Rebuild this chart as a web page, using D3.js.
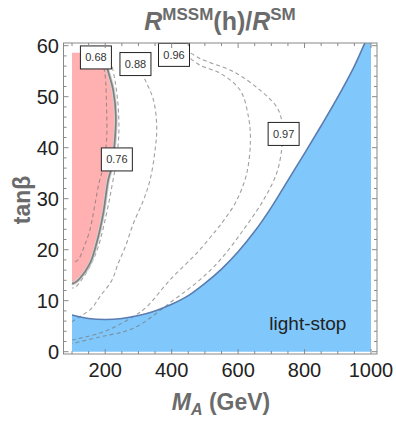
<!DOCTYPE html>
<html>
<head>
<meta charset="utf-8">
<script src="https://cdn.jsdelivr.net/npm/d3@7"></script>
<style>
body { margin: 0; background: #fff; }
svg { display: block; }
text { font-family: "Liberation Sans", Arial, sans-serif; }
</style>
</head>
<body>
<div id="chart"></div>
<script>
// values: M_A in GeV, tan(beta)
var xTicks = [200, 400, 600, 800, 1000];
var yTicks = [0, 10, 20, 30, 40, 50, 60];

// light-stop region (blue), upper edge
var stopMA = [100, 150, 200, 250, 300, 350, 400, 450, 500, 550, 600, 650, 700, 750, 800, 850, 900, 950, 980, 1000];
var stopTb = [7.2, 6.5, 6.3, 6.5, 7.1, 8.0, 9.3, 11.0, 13.4, 16.2, 19.6, 23.6, 28.3, 33.6, 38.9, 44.3, 49.9, 56.0, 60.3, 63];

// red region, right edge is the solid contour
var redTop = 58.6;
var redEdge = [[193, 58.6], [209, 54.9], [224, 51.3], [232, 46.1], [229, 41.5], [220, 36.3], [209, 33.7],
  [194, 27.1], [174, 21.3], [154, 17.3], [124, 14.4], [104, 13.4], [100, 13.4]];

// dashed contours
var c068 = [[190, 57], [199, 54.6], [204, 48], [204, 41.5], [195, 36.5], [181, 33], [168, 28.5], [154, 23.9],
  [136, 20.5], [118, 18.0], [100, 17.4]];
var c076 = [[212, 58.5], [229, 53.3], [239, 48.0], [241, 42.9], [234, 37.7], [220, 32.4], [204, 27.1],
  [179, 20.6], [154, 16.7], [129, 14.1], [109, 12.6], [100, 12.5]];
var c088 = [[300, 56], [320, 53.3], [345, 49.4], [355, 44.1], [350, 39.5], [335, 33.7], [315, 29.7], [285, 25.2],
  [260, 20.5], [239, 17.3], [220, 14.0], [184, 10.8], [159, 8.5], [124, 6.9], [100, 5.9]];
var c096 = [[440, 58.3], [485, 56.2], [546, 54.6], [606, 51.3], [631, 46.1], [637, 41.5], [626, 35.0], [596, 29.7],
  [562, 26.2], [535, 23.9], [475, 19.3], [395, 14.1], [325, 8.8], [285, 6.9], [195, 3.9], [100, 2.3]];
var c097 = [[440, 59.3], [485, 57.5], [586, 54.9], [666, 51.3], [716, 48.0], [731, 45.4], [733, 42.7], [731, 39.6],
  [716, 35.0], [676, 29.7], [616, 23.9], [546, 18.0], [485, 14.1], [405, 10.1], [285, 4.6], [184, 2.9], [100, 1.6]];
var contours = [c068, c076, c088, c096, c097];

var labelText = ["0.68", "0.88", "0.96", "0.97", "0.76"];
var labelMA = [172, 291, 407, 737, 235];
var labelTb = [57.7, 56.4, 58.2, 42.7, 37.7];

var W = 396, H = 422;
var frame = {left: 63.5, right: 377, top: 43, bottom: 354};

var x = d3.scaleLinear().domain([100, 1000]).range([72, 371]);
var y = d3.scaleLinear().domain([0, 60]).range([351.7, 45.7]);

var svg = d3.select("#chart").append("svg")
    .attr("width", W)
    .attr("height", H);

svg.append("clipPath").attr("id", "plot")
  .append("rect")
    .attr("x", frame.left).attr("y", frame.top)
    .attr("width", frame.right - frame.left)
    .attr("height", frame.bottom - frame.top);

var g = svg.append("g").attr("clip-path", "url(#plot)");

// blue light-stop area
var stopPts = stopMA.map(function(d, i) { return [d, stopTb[i]]; });
g.append("path")
    .datum(stopPts)
    .attr("fill", "#80c8fb")
    .attr("d", d3.area()
      .x(function(d) { return x(d[0]); })
      .y0(y(0))
      .y1(function(d) { return y(d[1]); })
      .curve(d3.curveCatmullRom));

// red area
var redPts = [[100, redTop]].concat(redEdge);
g.append("path")
    .datum(redPts)
    .attr("fill", "#ffb0b0")
    .attr("d", d3.line()
      .x(function(d) { return x(d[0]); })
      .y(function(d) { return y(d[1]); })
      .curve(d3.curveLinearClosed));

var line = d3.line()
    .x(function(d) { return x(d[0]); })
    .y(function(d) { return y(d[1]); })
    .curve(d3.curveCatmullRom);

g.selectAll("path.contour")
    .data(contours)
    .enter().append("path")
    .attr("class", "contour")
    .attr("fill", "none")
    .attr("stroke", "#777")
    .attr("stroke-opacity", 0.7)
    .attr("stroke-width", 1.1)
    .attr("stroke-dasharray", "4,3")
    .attr("d", line);

// solid contour at the red edge
g.append("path").datum(redEdge)
    .attr("fill", "none").attr("stroke", "#d0d0d0").attr("stroke-width", 3.6)
    .attr("d", line);
g.append("path").datum(redEdge)
    .attr("fill", "none").attr("stroke", "#808080").attr("stroke-width", 1.7)
    .attr("d", line);

// light-stop boundary line
g.append("path").datum(stopPts)
    .attr("fill", "none")
    .attr("stroke", "#5a7cb0")
    .attr("stroke-width", 1.6)
    .attr("d", line);

// contour labels
var lab = svg.selectAll("g.lab")
    .data(labelText)
    .enter().append("g")
    .attr("class", "lab")
    .attr("transform", function(d, i) { return "translate(" + x(labelMA[i]) + "," + y(labelTb[i]) + ")"; });
lab.append("rect")
    .attr("x", -15.5).attr("y", -11.5)
    .attr("width", 31).attr("height", 23)
    .attr("fill", "#fff")
    .attr("stroke", "#222")
    .attr("stroke-width", 1);
lab.append("text")
    .attr("text-anchor", "middle")
    .attr("dy", "0.36em")
    .attr("font-size", 11)
    .attr("fill", "#333")
    .text(function(d) { return d; });

svg.append("text")
    .attr("x", x(810))
    .attr("y", y(4.3))
    .attr("text-anchor", "middle")
    .attr("font-size", 19)
    .attr("fill", "#222")
    .text("light-stop");

// frame
svg.append("rect")
    .attr("x", frame.left).attr("y", frame.top)
    .attr("width", frame.right - frame.left)
    .attr("height", frame.bottom - frame.top)
    .attr("fill", "none")
    .attr("stroke", "#888")
    .attr("stroke-width", 1);

// ticks, inward on all four sides
var xMinor = d3.range(100, 1001, 50);
var yMinor = d3.range(0, 61, 2);
var tk = svg.append("g").attr("stroke", "#888").attr("stroke-width", 1);
xMinor.forEach(function(v) {
  var len = (v % 200 === 0) ? 5 : 3;
  tk.append("line").attr("x1", x(v)).attr("x2", x(v)).attr("y1", frame.bottom).attr("y2", frame.bottom - len);
  tk.append("line").attr("x1", x(v)).attr("x2", x(v)).attr("y1", frame.top).attr("y2", frame.top + len);
});
yMinor.forEach(function(v) {
  var len = (v % 10 === 0) ? 5 : 3;
  tk.append("line").attr("y1", y(v)).attr("y2", y(v)).attr("x1", frame.left).attr("x2", frame.left + len);
  tk.append("line").attr("y1", y(v)).attr("y2", y(v)).attr("x1", frame.right).attr("x2", frame.right - len);
});

svg.selectAll("text.xt")
    .data(xTicks)
    .enter().append("text")
    .attr("class", "xt")
    .attr("x", function(d) { return x(d); })
    .attr("y", 377)
    .attr("text-anchor", "middle")
    .attr("font-size", 20)
    .attr("fill", "#222")
    .text(function(d) { return d; });

svg.selectAll("text.yt")
    .data(yTicks)
    .enter().append("text")
    .attr("class", "yt")
    .attr("x", 59)
    .attr("y", function(d) { return y(d); })
    .attr("dy", "0.35em")
    .attr("text-anchor", "end")
    .attr("font-size", 20)
    .attr("fill", "#222")
    .text(function(d) { return d; });

// axis titles
var xl = svg.append("text")
    .attr("x", 221).attr("y", 410)
    .attr("text-anchor", "middle")
    .attr("font-size", 23)
    .attr("font-weight", "bold")
    .attr("fill", "#6b6b6b");
xl.append("tspan").attr("font-style", "italic").text("M");
xl.append("tspan").attr("font-style", "italic").attr("font-size", 16).attr("dy", 5).text("A");
xl.append("tspan").attr("dy", -5).text(" (GeV)");

svg.append("text")
    .attr("transform", "translate(30,200) rotate(-90)")
    .attr("text-anchor", "middle")
    .attr("font-size", 23)
    .attr("font-weight", "bold")
    .attr("fill", "#6b6b6b")
    .text("tanβ");

var tt = svg.append("text")
    .attr("x", 220).attr("y", 30)
    .attr("text-anchor", "middle")
    .attr("font-size", 25)
    .attr("font-weight", "bold")
    .attr("fill", "#6b6b6b");
tt.append("tspan").attr("font-style", "italic").text("R");
tt.append("tspan").attr("font-size", 17).attr("dy", -10).text("MSSM");
tt.append("tspan").attr("dy", 10).text("(h)/");
tt.append("tspan").attr("font-style", "italic").text("R");
tt.append("tspan").attr("font-size", 17).attr("dy", -10).text("SM");
</script>
</body>
</html>
